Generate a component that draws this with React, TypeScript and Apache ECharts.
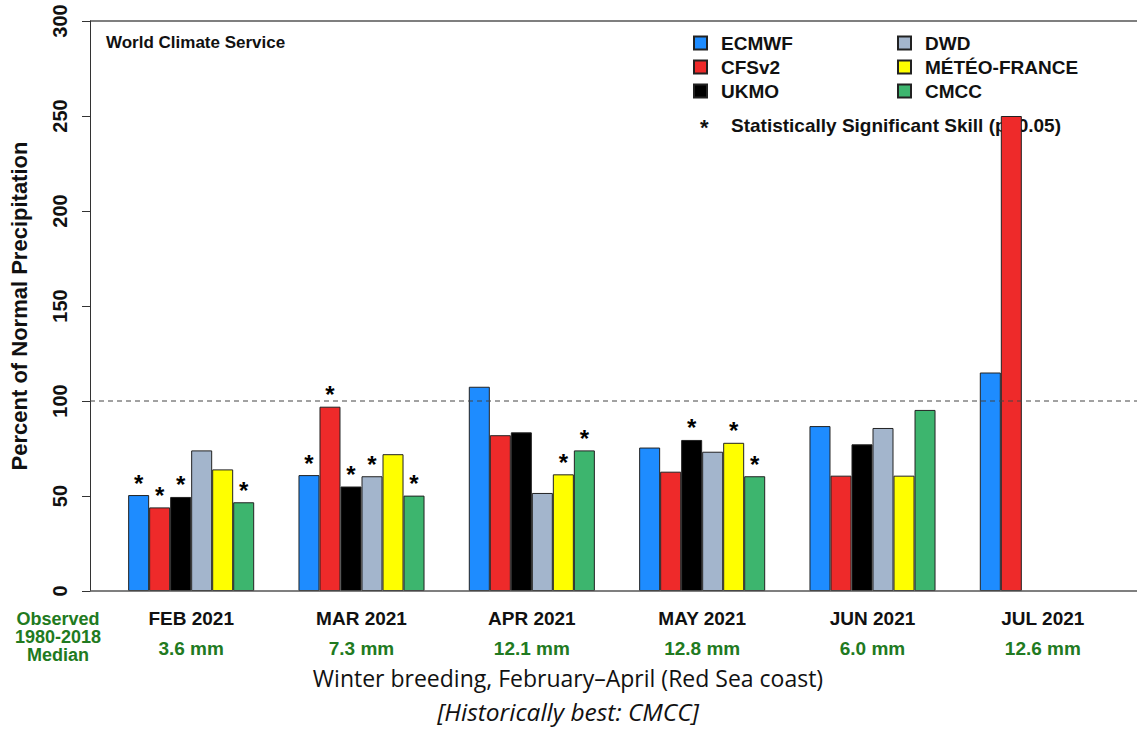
import React, { useEffect, useRef } from "react";
import * as echarts from "echarts";

const months = ["FEB 2021", "MAR 2021", "APR 2021", "MAY 2021", "JUN 2021", "JUL 2021"];
const medians = ["3.6 mm", "7.3 mm", "12.1 mm", "12.8 mm", "6.0 mm", "12.6 mm"];
const models = ["ECMWF", "CFSv2", "UKMO", "DWD", "MÉTÉO-FRANCE", "CMCC"];
const colors = ["#1e8cff", "#ee2a2a", "#000000", "#a3b5cc", "#ffff00", "#3db56e"];

const ecmwf = [50.5, 61, 107.5, 75.5, 86.8, 115];
const cfsv2 = [44, 97, 82, 62.8, 60.7, 250];
const ukmo = [49.5, 55, 83.5, 79.5, 77.2, null];
const dwd = [74, 60.4, 51.6, 73.3, 85.8, null];
const meteoFrance = [64, 72, 61.4, 78, 60.7, null];
const cmcc = [46.7, 50.2, 74, 60.4, 95.3, null];

// statistically significant skill flags (p=0.05)
const sigEcmwf = [1, 1, 0, 0, 0, 0];
const sigCfsv2 = [1, 1, 0, 0, 0, 0];
const sigUkmo = [1, 1, 0, 1, 0, 0];
const sigDwd = [0, 1, 0, 0, 0, 0];
const sigMeteoFrance = [0, 0, 1, 1, 0, 0];
const sigCmcc = [1, 1, 1, 1, 0, 0];

const normalLevel = 100;
const yTicks = [0, 50, 100, 150, 200, 250, 300];

const FONT = "'Liberation Sans', Arial, Helvetica, sans-serif";
const GREEN = "#217a21";

export default function App() {
  const ref = useRef<HTMLDivElement>(null);

  useEffect(() => {
    if (!ref.current) return;
    const chart = echarts.init(ref.current, undefined, { renderer: "svg" });
    const values = [ecmwf, cfsv2, ukmo, dwd, meteoFrance, cmcc];
    const sigs = [sigEcmwf, sigCfsv2, sigUkmo, sigDwd, sigMeteoFrance, sigCmcc];

    const series = models.map((name, k) => ({
      name,
      type: "bar",
      barGap: "0%",
      barCategoryGap: "26%",
      itemStyle: { color: colors[k], borderColor: "#222", borderWidth: 1 },
      label: {
        show: false,
        position: "top",
        formatter: "*",
        fontSize: 24,
        fontWeight: "bold",
        fontFamily: FONT,
        color: "#000",
        distance: 0,
      },
      data: values[k].map((v, i) => ({
        value: v,
        label: { show: !!sigs[k][i] && v !== null },
      })),
    }));

    const legendCommon = {
      orient: "vertical",
      top: 28,
      icon: "rect",
      itemWidth: 13,
      itemHeight: 13,
      itemGap: 4,
      selectedMode: false,
      textStyle: {
        fontSize: 19,
        fontWeight: "bold",
        fontFamily: FONT,
        color: "#111",
        lineHeight: 20,
        padding: [0, 0, 0, 9],
      },
    };

    chart.setOption({
      animation: false,
      backgroundColor: "#fff",
      grid: { left: 106, right: 9, top: 21, bottom: 156, containLabel: false },
      legend: [
        { ...legendCommon, left: 688, data: models.slice(0, 3) },
        { ...legendCommon, left: 892, data: models.slice(3) },
      ],
      xAxis: {
        type: "category",
        data: months,
        axisLine: { show: false },
        axisTick: { show: false },
        axisLabel: {
          margin: 12,
          interval: 0,
          formatter: (v: string, i: number) => `{m|${v}}\n{v|${medians[i]}}`,
          rich: {
            m: { fontSize: 19, fontWeight: "bold", fontFamily: FONT, color: "#111", lineHeight: 30 },
            v: { fontSize: 19, fontWeight: "bold", fontFamily: FONT, color: GREEN, lineHeight: 30 },
          },
        },
      },
      yAxis: {
        type: "value",
        min: yTicks[0],
        max: yTicks[yTicks.length - 1],
        interval: 50,
        offset: 16,
        name: "Percent of Normal Precipitation",
        nameLocation: "middle",
        nameGap: 60,
        nameTextStyle: { fontSize: 22, fontWeight: "bold", fontFamily: FONT, color: "#111" },
        axisLine: { show: true, lineStyle: { color: "#333", width: 1 } },
        axisTick: { show: true, length: 8, lineStyle: { color: "#333" } },
        splitLine: { show: false },
        axisLabel: {
          rotate: 90,
          margin: 20,
          fontSize: 20,
          fontWeight: "bold",
          fontFamily: FONT,
          color: "#111",
        },
      },
      series,
    });

    const y0 = chart.convertToPixel({ yAxisIndex: 0 }, yTicks[0]) as number;
    const yTop = chart.convertToPixel({ yAxisIndex: 0 }, yTicks[yTicks.length - 1]) as number;
    const yNorm = chart.convertToPixel({ yAxisIndex: 0 }, normalLevel) as number;
    const axisX = 90;
    const W = 1137;

    chart.setOption({
      graphic: [
        {
          type: "line",
          z: 0,
          shape: { x1: axisX, y1: yTop, x2: W, y2: yTop },
          style: { stroke: "#555", lineWidth: 1.5 },
          silent: true,
        },
        {
          type: "line",
          z: 50,
          shape: { x1: axisX, y1: y0, x2: W, y2: y0 },
          style: { stroke: "#555", lineWidth: 1.5 },
          silent: true,
        },
        {
          type: "line",
          z: 50,
          shape: { x1: axisX, y1: yNorm, x2: W, y2: yNorm },
          style: { stroke: "#444", lineWidth: 1, lineDash: [5, 4] },
          silent: true,
        },
        {
          type: "text",
          z: 0,
          x: 106,
          y: 42,
          style: {
            text: "World Climate Service",
            font: `bold 17px ${FONT}`,
            fill: "#111",
            textVerticalAlign: "middle",
          },
        },
        {
          type: "text",
          z: 0,
          x: 700,
          y: 127,
          style: { text: "*", font: `bold 22px ${FONT}`, fill: "#111", textVerticalAlign: "middle" },
        },
        {
          type: "text",
          z: 0,
          x: 731,
          y: 125,
          style: {
            text: "Statistically Significant Skill (p=0.05)",
            font: `bold 19px ${FONT}`,
            fill: "#111",
            textVerticalAlign: "middle",
          },
        },
        {
          type: "text",
          z: 0,
          x: 58,
          y: 610,
          style: {
            text: "Observed\n1980-2018\nMedian",
            font: `bold 18px ${FONT}`,
            lineHeight: 18,
            fill: GREEN,
            textAlign: "center",
          },
        },
        {
          type: "text",
          z: 0,
          x: 568,
          y: 678,
          style: {
            text: "Winter breeding, February–April (Red Sea coast)",
            font: `23px 'Open Sans', sans-serif`,
            lineHeight: 24,
            fill: "#111",
            textAlign: "center",
            textVerticalAlign: "middle",
          },
        },
        {
          type: "text",
          z: 0,
          x: 568,
          y: 711,
          style: {
            text: "[Historically best: CMCC]",
            font: `italic 24.5px 'Open Sans', sans-serif`,
            lineHeight: 25,
            fill: "#111",
            textAlign: "center",
            textVerticalAlign: "middle",
          },
        },
      ],
    });

    return () => chart.dispose();
  }, []);

  return (
    <div
      ref={ref}
      style={{ position: "fixed", left: 0, top: 0, width: 1137, height: 747, background: "#fff" }}
    />
  );
}
